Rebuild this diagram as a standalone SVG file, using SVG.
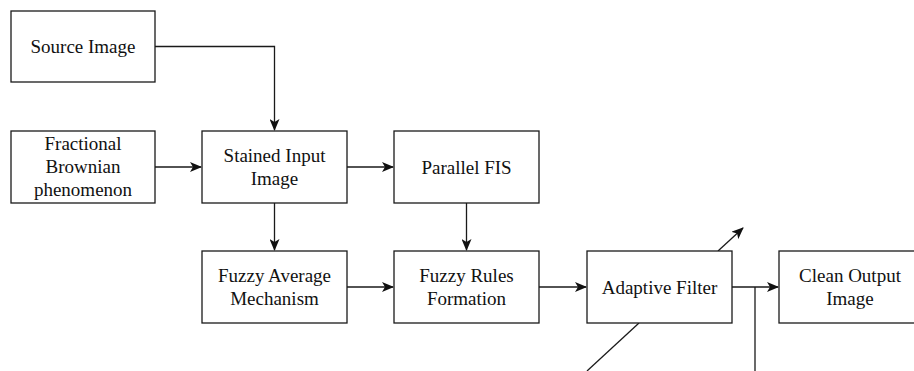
<svg xmlns="http://www.w3.org/2000/svg" width="914" height="371" viewBox="0 0 914 371">
<defs>
<style>
.box{fill:#fff;stroke:#1a1a1a;stroke-width:1.3}
.t{font-family:"Liberation Serif","Times New Roman",serif;font-size:19px;fill:#111;text-anchor:middle}
.c{fill:none;stroke:#1a1a1a;stroke-width:1.3}
</style>
<marker id="ah" viewBox="0 0 12 10" refX="11" refY="5" markerWidth="12" markerHeight="10" markerUnits="userSpaceOnUse" orient="auto">
<path d="M0,0 L12,5 L0,10 L3,5 Z" fill="#111"/>
</marker>
</defs>
<rect width="914" height="371" fill="#fff"/>
<g id="connectors">
<path class="c" d="M155,46.5 H274.5 V130" marker-end="url(#ah)"/>
<path class="c" d="M155,167 H201" marker-end="url(#ah)"/>
<path class="c" d="M347,167 H393" marker-end="url(#ah)"/>
<path class="c" d="M274.5,203 V250" marker-end="url(#ah)"/>
<path class="c" d="M466.5,203 V250" marker-end="url(#ah)"/>
<path class="c" d="M347,287 H393" marker-end="url(#ah)"/>
<path class="c" d="M539,287 H586" marker-end="url(#ah)"/>
<path class="c" d="M732,287 H778" marker-end="url(#ah)"/>
<path class="c" d="M755,287 V371"/>
<path class="c" d="M587,371 L639,323"/>
<path class="c" d="M718,251 L743,228" marker-end="url(#ah)"/>
</g>
<g id="source-image"><rect class="box" x="11" y="11" width="144" height="71"/><text class="t" x="83" y="53">Source Image</text></g>
<g id="fractional-brownian"><rect class="box" x="11" y="131" width="144" height="72"/><text class="t" x="83" y="150">Fractional</text><text class="t" x="83" y="173">Brownian</text><text class="t" x="83" y="196">phenomenon</text></g>
<g id="stained-input"><rect class="box" x="202" y="131" width="145" height="72"/><text class="t" x="274.5" y="162">Stained Input</text><text class="t" x="274.5" y="185">Image</text></g>
<g id="parallel-fis"><rect class="box" x="394" y="131" width="145" height="72"/><text class="t" x="466.5" y="173.5">Parallel FIS</text></g>
<g id="fuzzy-average"><rect class="box" x="202" y="251" width="145" height="72"/><text class="t" x="274.5" y="282">Fuzzy Average</text><text class="t" x="274.5" y="305">Mechanism</text></g>
<g id="fuzzy-rules"><rect class="box" x="394" y="251" width="145" height="72"/><text class="t" x="466.5" y="282">Fuzzy Rules</text><text class="t" x="466.5" y="305">Formation</text></g>
<g id="adaptive-filter"><rect class="box" x="587" y="251" width="145" height="72"/><text class="t" x="659.5" y="293.5">Adaptive Filter</text></g>
<g id="clean-output"><rect class="box" x="779" y="251" width="145" height="72"/><text class="t" x="850" y="282">Clean Output</text><text class="t" x="850" y="305">Image</text></g>
</svg>
